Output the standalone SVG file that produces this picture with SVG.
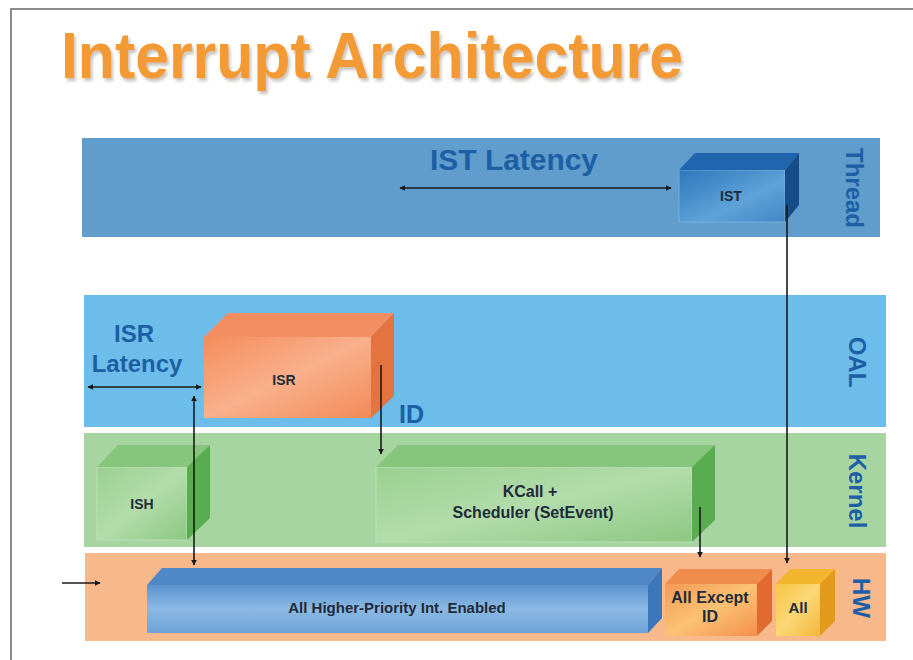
<svg xmlns="http://www.w3.org/2000/svg" width="913" height="660" viewBox="0 0 913 660">
<defs>
<style>
.lbl{font-family:"Liberation Sans",Arial,sans-serif;font-weight:bold;fill:#1d5fa5}
.side{font-family:"Liberation Sans",Arial,sans-serif;font-weight:bold;font-size:24px;fill:#1d5fa5}
.box{font-family:"Liberation Sans",Arial,sans-serif;font-weight:bold;fill:#1e2b3a}
.con{stroke:#1a1a1a;stroke-width:1.6;fill:none}
</style>
<marker id="ah" viewBox="0 0 10 10" refX="9" refY="5" markerWidth="6" markerHeight="6" orient="auto-start-reverse" markerUnits="userSpaceOnUse">
<path d="M0,0 L10,5 L0,10 z" fill="#1a1a1a"/>
</marker>
<filter id="sh" x="-5%" y="-20%" width="110%" height="140%">
<feDropShadow dx="2" dy="3" stdDeviation="1.5" flood-color="#8a7a6a" flood-opacity="0.45"/>
</filter>
<linearGradient id="gIST" x1="0" y1="0" x2="1" y2="1">
<stop offset="0" stop-color="#2c78bd"/><stop offset="0.6" stop-color="#5ea3d8"/><stop offset="1" stop-color="#3f86c7"/>
</linearGradient>
<linearGradient id="gISR" x1="0" y1="0" x2="1" y2="1">
<stop offset="0" stop-color="#f58c5c"/><stop offset="0.5" stop-color="#f9b08c"/><stop offset="1" stop-color="#f28a58"/>
</linearGradient>
<linearGradient id="gGR" x1="0" y1="0" x2="1" y2="1">
<stop offset="0" stop-color="#9ad08f"/><stop offset="0.5" stop-color="#b3dcab"/><stop offset="1" stop-color="#8cc781"/>
</linearGradient>
<linearGradient id="gBL" x1="0" y1="0" x2="0" y2="1">
<stop offset="0" stop-color="#5b93cf"/><stop offset="0.5" stop-color="#8bb9e3"/><stop offset="1" stop-color="#6da3d8"/>
</linearGradient>
<linearGradient id="gAE" x1="0" y1="0" x2="1" y2="1">
<stop offset="0" stop-color="#f59a56"/><stop offset="0.5" stop-color="#fbc274"/><stop offset="1" stop-color="#f48f4c"/>
</linearGradient>
<linearGradient id="gAL" x1="0" y1="0" x2="1" y2="1">
<stop offset="0" stop-color="#f8c546"/><stop offset="0.5" stop-color="#fbd775"/><stop offset="1" stop-color="#f2b63a"/>
</linearGradient>
</defs>
<rect x="0" y="0" width="913" height="660" fill="#ffffff"/>
<path d="M11,660 V9 H913" fill="none" stroke="#666" stroke-width="1.5"/>

<text x="61" y="78" font-family="Liberation Sans, Arial, sans-serif" font-weight="bold" font-size="64" fill="#f39a36" textLength="622" lengthAdjust="spacingAndGlyphs" filter="url(#sh)">Interrupt Architecture</text>

<g id="band-thread">
<rect x="82" y="138" width="798" height="99" fill="#609ccc"/>
<text class="side" transform="translate(854,188) rotate(90)" text-anchor="middle" dominant-baseline="central">Thread</text>
</g>
<g id="band-oal">
<rect x="84" y="295" width="802" height="132" fill="#6cbde9"/>
<text class="side" transform="translate(857,362) rotate(90)" text-anchor="middle" dominant-baseline="central">OAL</text>
</g>
<g id="band-kernel">
<rect x="84" y="433" width="802" height="114" fill="#a7d5a2"/>
<text class="side" transform="translate(857,491) rotate(90)" text-anchor="middle" dominant-baseline="central">Kernel</text>
</g>
<g id="band-hw">
<rect x="85" y="553" width="801" height="88" fill="#f7b98b"/>
<text class="side" transform="translate(861,598) rotate(90)" text-anchor="middle" dominant-baseline="central">HW</text>
</g>

<g id="ist-latency">
<text class="lbl" x="430" y="170" font-size="29" textLength="168" lengthAdjust="spacingAndGlyphs">IST Latency</text>
</g>
<g id="isr-latency">
<text class="lbl" x="134" y="342" font-size="24" text-anchor="middle">ISR</text>
<text class="lbl" x="137" y="372" font-size="24" text-anchor="middle">Latency</text>
</g>
<g id="id-label">
<text class="lbl" x="399" y="423" font-size="25">ID</text>
</g>

<g id="ist">
<rect x="679" y="170" width="106" height="52" fill="url(#gIST)" stroke="#7fb6e0" stroke-width="0.8"/>
<polygon points="679,170 695,153 799,153 785,170" fill="#1f66ae"/>
<polygon points="785,170 799,153 799,205 785,222" fill="#164c88"/>
<text class="box" x="731" y="201" font-size="14" text-anchor="middle">IST</text>
</g>

<g id="isr">
<rect x="204" y="337" width="167" height="81" fill="url(#gISR)"/>
<polygon points="204,337 228,313 394,313 371,337" fill="#f38e62"/>
<polygon points="371,337 394,313 394,396 371,418" fill="#e3743f"/>
<text class="box" x="284" y="385" font-size="14" text-anchor="middle">ISR</text>
</g>

<g id="ish">
<rect x="97" y="467" width="90" height="73" fill="url(#gGR)" stroke="#c3e4bd" stroke-width="0.8"/>
<polygon points="97,467 118,445 210,445 187,467" fill="#86c67c"/>
<polygon points="187,467 210,445 210,518 187,540" fill="#5aac50"/>
<text class="box" x="142" y="509" font-size="14" text-anchor="middle">ISH</text>
</g>

<g id="kcall">
<rect x="376" y="467" width="316" height="75" fill="url(#gGR)" stroke="#c3e4bd" stroke-width="0.8"/>
<polygon points="376,467 398,445 715,445 692,467" fill="#86c67c"/>
<polygon points="692,467 715,445 715,520 692,542" fill="#5aac50"/>
<text class="box" x="530" y="497" font-size="16" text-anchor="middle">KCall +</text>
<text class="box" x="533" y="518" font-size="16" text-anchor="middle">Scheduler (SetEvent)</text>
</g>

<g id="all-higher">
<rect x="147" y="585" width="501" height="48" fill="url(#gBL)"/>
<polygon points="147,585 162,568 662,568 648,585" fill="#4f87c7"/>
<polygon points="648,585 662,568 662,618 648,633" fill="#3b76bb"/>
<text class="box" x="397" y="613" font-size="15" text-anchor="middle">All Higher-Priority Int. Enabled</text>
</g>

<g id="all-except">
<rect x="665" y="584" width="92" height="52" fill="url(#gAE)"/>
<polygon points="665,584 679,569 772,569 757,584" fill="#f08c4c"/>
<polygon points="757,584 772,569 772,621 757,636" fill="#e06a30"/>
<text class="box" x="710" y="603" font-size="16" text-anchor="middle">All Except</text>
<text class="box" x="710" y="622" font-size="16" text-anchor="middle">ID</text>
</g>

<g id="all">
<rect x="776" y="584" width="44" height="52" fill="url(#gAL)"/>
<polygon points="776,584 790,569 835,569 820,584" fill="#f4b52e"/>
<polygon points="820,584 835,569 835,621 820,636" fill="#e39a1c"/>
<text class="box" x="798" y="613" font-size="15" text-anchor="middle">All</text>
</g>

<g id="connectors">
<line class="con" x1="400" y1="188" x2="671" y2="188" marker-start="url(#ah)" marker-end="url(#ah)"/>
<line class="con" x1="88" y1="387" x2="201" y2="387" marker-start="url(#ah)" marker-end="url(#ah)"/>
<line class="con" x1="194" y1="396" x2="194" y2="565" marker-start="url(#ah)" marker-end="url(#ah)"/>
<line class="con" x1="381" y1="365" x2="381" y2="454" marker-end="url(#ah)"/>
<line class="con" x1="700" y1="507" x2="700" y2="557" marker-end="url(#ah)"/>
<line class="con" x1="787" y1="205" x2="787" y2="563" marker-end="url(#ah)"/>
<line class="con" x1="62" y1="583" x2="100" y2="583" marker-end="url(#ah)"/>
</g>
</svg>
